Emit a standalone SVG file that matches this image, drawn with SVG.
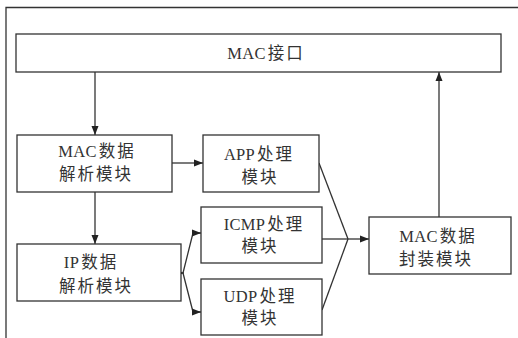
<svg xmlns="http://www.w3.org/2000/svg" width="518" height="338" viewBox="0 0 518 338">
<style>
.box{fill:#fff;stroke:#333;stroke-width:1.3}
.ln{fill:none;stroke:#333;stroke-width:1.3}
.t{font-family:"Liberation Serif","Noto Sans CJK SC",serif;font-size:16.5px;fill:#333;text-anchor:middle;letter-spacing:2px}
.l{letter-spacing:0.3px}
</style>
<defs>
<marker id="ah" markerUnits="userSpaceOnUse" markerWidth="10" markerHeight="8" refX="9" refY="4" orient="auto">
<path d="M0,0.5 L9,4 L0,7.5 Z" fill="#222"/>
</marker>
</defs>
<rect width="518" height="338" fill="#fff"/>
<path class="ln" d="M6,338 V7.5 H518" stroke="#666"/>
<g id="connectors">
<line class="ln" x1="95" y1="72" x2="95" y2="135" marker-end="url(#ah)"/>
<line class="ln" x1="172" y1="163" x2="203" y2="163" marker-end="url(#ah)"/>
<line class="ln" x1="95" y1="192" x2="95" y2="244" marker-end="url(#ah)"/>
<line class="ln" x1="181" y1="273" x2="184" y2="273" marker-end="url(#ah)"/>
<polyline class="ln" points="183,273 193,233 201,233" marker-end="url(#ah)"/>
<polyline class="ln" points="183,273 193,312 201,312" marker-end="url(#ah)"/>
<polyline class="ln" points="319,163 348,239"/>
<polyline class="ln" points="322,239 348,239"/>
<polyline class="ln" points="322,310 348,239"/>
<line class="ln" x1="348" y1="239" x2="369" y2="239" marker-end="url(#ah)"/>
<line class="ln" x1="439" y1="217" x2="439" y2="72" marker-end="url(#ah)"/>
</g>
<g id="mac-if">
<rect class="box" x="16" y="34" width="485" height="38"/>
<text class="t" x="266" y="59"><tspan class="l">MAC</tspan><tspan dx="2">接口</tspan></text>
</g>
<g id="mac-parse">
<rect class="box" x="17" y="135" width="155" height="57"/>
<text class="t" x="97" y="157"><tspan class="l">MAC</tspan><tspan dx="2">数据</tspan></text>
<text class="t" x="96" y="180">解析模块</text>
</g>
<g id="app">
<rect class="box" x="203" y="135" width="116" height="57"/>
<text class="t" x="259" y="160"><tspan class="l">APP</tspan><tspan dx="2">处理</tspan></text>
<text class="t" x="260" y="183">模块</text>
</g>
<g id="icmp">
<rect class="box" x="201" y="207" width="121" height="56"/>
<text class="t" x="264" y="230"><tspan class="l">ICMP</tspan><tspan dx="2">处理</tspan></text>
<text class="t" x="260" y="252">模块</text>
</g>
<g id="udp">
<rect class="box" x="201" y="279" width="121" height="56"/>
<text class="t" x="260" y="302"><tspan class="l">UDP</tspan><tspan dx="2">处理</tspan></text>
<text class="t" x="260" y="324">模块</text>
</g>
<g id="ip-parse">
<rect class="box" x="17" y="244" width="164" height="57"/>
<text class="t" x="91" y="268"><tspan class="l">IP</tspan><tspan dx="2">数据</tspan></text>
<text class="t" x="96" y="292">解析模块</text>
</g>
<g id="mac-encap">
<rect class="box" x="369" y="217" width="142" height="57"/>
<text class="t" x="438" y="242"><tspan class="l">MAC</tspan><tspan dx="2">数据</tspan></text>
<text class="t" x="436" y="265">封装模块</text>
</g>
</svg>
